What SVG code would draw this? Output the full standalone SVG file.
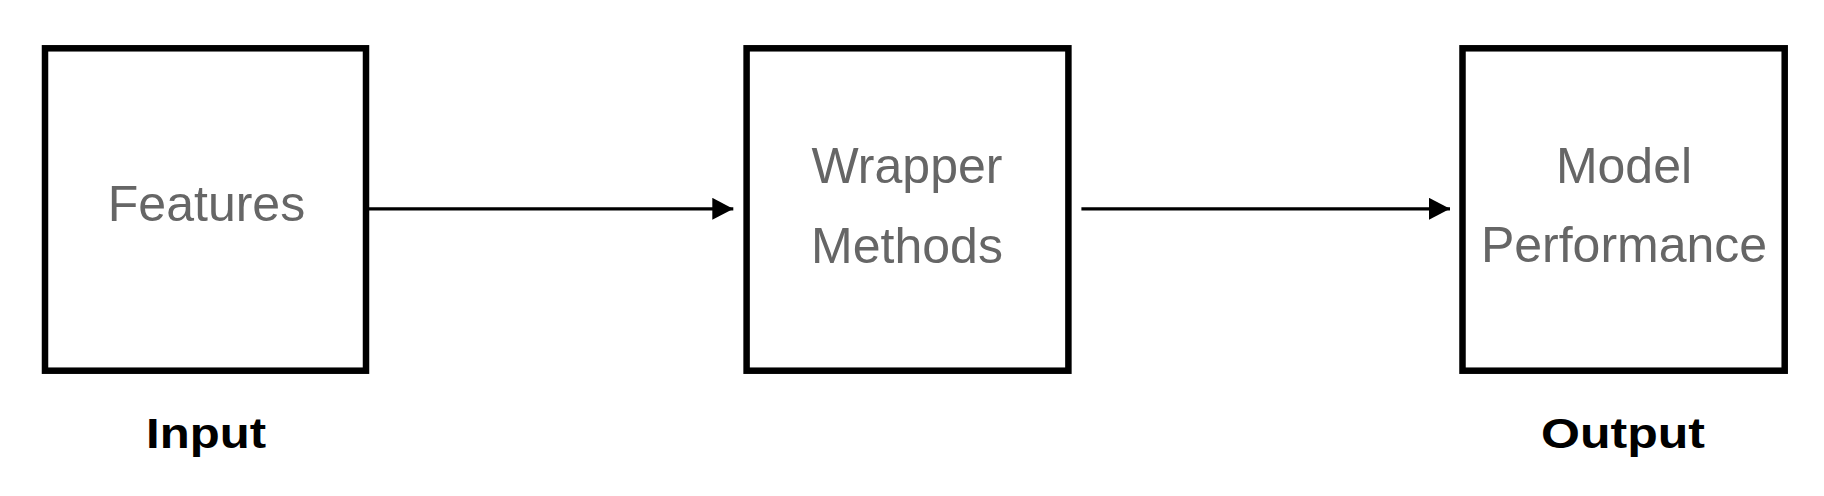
<svg xmlns="http://www.w3.org/2000/svg" width="1824" height="496" viewBox="0 0 1824 496">
  <style>
    .box { fill: #ffffff; stroke: #000000; stroke-width: 6.5; }
    .lbl { font-family: "Liberation Sans", Arial, sans-serif; font-size: 50px; fill: #666666; text-anchor: middle; }
    .cap { font-family: "Liberation Sans", Arial, sans-serif; font-size: 42px; font-weight: bold; fill: #000000; text-anchor: middle; }
    .conn { stroke: #000000; stroke-width: 3.2; fill: none; }
  </style>
  <defs>
    <marker id="arrow" markerUnits="userSpaceOnUse" markerWidth="21" markerHeight="22" refX="21" refY="11" orient="auto">
      <path d="M0,0 L21,11 L0,22 Z" fill="#000000"/>
    </marker>
  </defs>
  <rect width="1824" height="496" fill="#ffffff"/>

  <g id="node-features">
    <rect class="box" x="45" y="48.3" width="321" height="322.4"/>
    <text class="lbl" x="206.5" y="221">Features</text>
  </g>

  <g id="node-wrapper">
    <rect class="box" x="746.6" y="48.3" width="321.8" height="322.4"/>
    <text class="lbl" x="907" y="183.3">Wrapper</text>
    <text class="lbl" x="907" y="262.7">Methods</text>
  </g>

  <g id="node-model">
    <rect class="box" x="1462.5" y="48.3" width="322.2" height="322.4"/>
    <text class="lbl" x="1624" y="183">Model</text>
    <text class="lbl" x="1624" y="261.5">Performance</text>
  </g>

  <g id="label-input">
    <text class="cap" x="206" y="448" textLength="120" lengthAdjust="spacingAndGlyphs">Input</text>
  </g>

  <g id="label-output">
    <text class="cap" x="1623" y="448" textLength="164" lengthAdjust="spacingAndGlyphs">Output</text>
  </g>

  <g id="connectors">
    <line class="conn" x1="369" y1="208.8" x2="733.3" y2="208.8" marker-end="url(#arrow)"/>
    <line class="conn" x1="1081.4" y1="208.8" x2="1450" y2="208.8" marker-end="url(#arrow)"/>
  </g>
</svg>
